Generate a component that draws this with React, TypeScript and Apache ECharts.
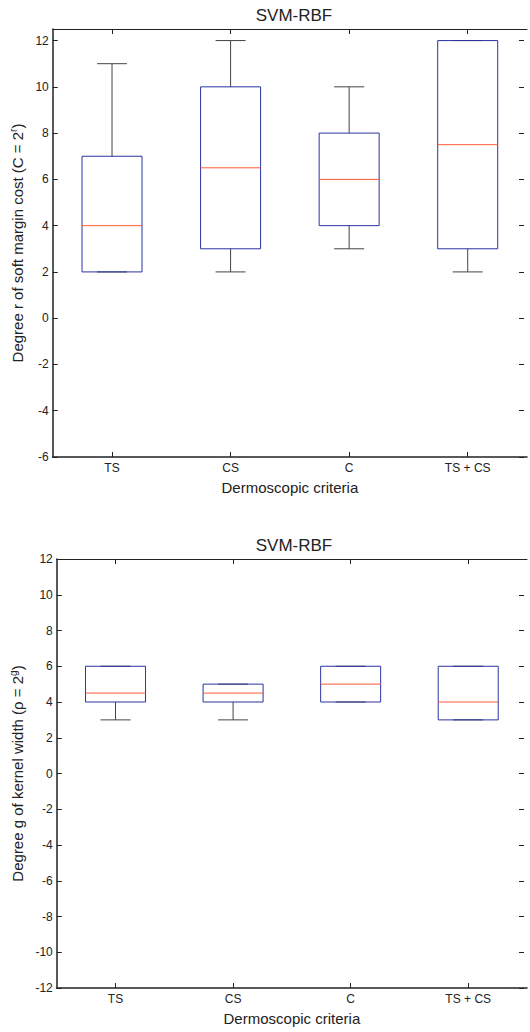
import React, { useEffect, useRef } from "react";
import * as echarts from "echarts";

const categories = ["TS", "CS", "C", "TS + CS"];
// [min, Q1, median, Q3, max]
const marginCost = [
  [2, 2, 4, 7, 11],
  [2, 3, 6.5, 10, 12],
  [3, 4, 6, 8, 10],
  [2, 3, 7.5, 12, 12],
];
const kernelWidth = [
  [3, 4, 4.5, 6, 6],
  [3, 4, 4.5, 5, 5],
  [4, 4, 5, 6, 6],
  [3, 3, 4, 6, 6],
];
const titles = ["SVM-RBF", "SVM-RBF"];
const xName = "Dermoscopic criteria";

const FONT = "Liberation Sans, Arial, Helvetica, sans-serif";
const BOX = "#2a33a0";
const MED = "#ff5a36";
const WHISK = "#444";

function renderBox(params: any, api: any) {
  const i = api.value(0);
  const lo = api.coord([i, api.value(1)]);
  const q1 = api.coord([i, api.value(2)]);
  const md = api.coord([i, api.value(3)]);
  const q3 = api.coord([i, api.value(4)]);
  const hi = api.coord([i, api.value(5)]);
  const cx = lo[0];
  const hw = 30;
  const cw = 15;
  return {
    type: "group",
    children: [
      { type: "line", shape: { x1: cx, y1: hi[1], x2: cx, y2: q3[1] }, style: { stroke: WHISK, lineWidth: 1 } },
      { type: "line", shape: { x1: cx, y1: q1[1], x2: cx, y2: lo[1] }, style: { stroke: WHISK, lineWidth: 1 } },
      { type: "line", shape: { x1: cx - cw, y1: hi[1], x2: cx + cw, y2: hi[1] }, style: { stroke: WHISK, lineWidth: 1 } },
      { type: "line", shape: { x1: cx - cw, y1: lo[1], x2: cx + cw, y2: lo[1] }, style: { stroke: WHISK, lineWidth: 1 } },
      { type: "rect", shape: { x: cx - hw, y: q3[1], width: 2 * hw, height: q1[1] - q3[1] }, style: { fill: "none", stroke: BOX, lineWidth: 1 } },
      { type: "line", shape: { x1: cx - hw, y1: md[1], x2: cx + hw, y2: md[1] }, style: { stroke: MED, lineWidth: 1 } },
    ],
  };
}

export default function App() {
  const ref = useRef<HTMLDivElement>(null);
  useEffect(() => {
    if (!ref.current) return;
    const chart = echarts.init(ref.current, null, { renderer: "svg" });
    const grids = [
      { left: 51, top: 29, width: 476, height: 428 },
      { left: 51, top: 559, width: 476, height: 429 },
    ];
    const yRanges = [
      [-6, 12.5],
      [-12, 12],
    ];
    const yNames = [
      "Degree r of soft margin cost (C = 2{s|r})",
      "Degree g of kernel width (ρ = 2{s|g})",
    ];
    const datasets = [marginCost, kernelWidth];
    const axisLine = { show: true, onZero: false, lineStyle: { color: "#222", width: 1 } };
    const xAxis: any[] = [];
    const yAxis: any[] = [];
    const series: any[] = [];
    for (let g = 0; g < 2; g++) {
      xAxis.push({
        type: "category",
        gridIndex: g,
        data: categories,
        position: "bottom",
        boundaryGap: true,
        axisLine: { show: true, onZero: false, lineStyle: { color: "#222", width: 1.5 } },
        axisTick: { show: true, inside: true, length: 5, alignWithLabel: true, lineStyle: { color: "#222" } },
        axisLabel: { color: "#222", fontFamily: FONT, fontSize: 12, margin: 5 },
        name: xName,
        nameLocation: "middle",
        nameGap: 23,
        nameTextStyle: { color: "#222", fontFamily: FONT, fontSize: 15 },
        splitLine: { show: false },
      });
      xAxis.push({
        type: "category",
        gridIndex: g,
        data: categories,
        position: "top",
        boundaryGap: true,
        axisLine,
        axisTick: { show: true, inside: true, length: 5, alignWithLabel: true, lineStyle: { color: "#222" } },
        axisLabel: { show: false },
        splitLine: { show: false },
      });
      yAxis.push({
        type: "value",
        gridIndex: g,
        min: yRanges[g][0],
        max: yRanges[g][1],
        interval: 2,
        position: "left",
        axisLine: { show: true, onZero: false, lineStyle: { color: "#222", width: 1.5 } },
        axisTick: { show: true, inside: true, length: 5, lineStyle: { color: "#222" } },
        axisLabel: {
          color: "#222",
          fontFamily: FONT,
          fontSize: 12,
          margin: 4,
          showMaxLabel: g === 1,
          formatter: (v: number) => (Number.isInteger(v) ? String(v) : ""),
        },
        splitLine: { show: false },
        name: yNames[g],
        nameLocation: "middle",
        nameRotate: 90,
        nameGap: 25,
        nameTextStyle: {
          color: "#222",
          fontFamily: FONT,
          fontSize: 15,
          rich: { s: { fontSize: 10, fontFamily: FONT, color: "#222", padding: [0, 0, 8, 0] } },
        },
      });
      yAxis.push({
        type: "value",
        gridIndex: g,
        min: yRanges[g][0],
        max: yRanges[g][1],
        interval: 2,
        position: "right",
        offset: -3,
        axisLine: { show: false },
        axisTick: { show: true, inside: true, length: 5, lineStyle: { color: "#222" } },
        axisLabel: { show: false },
        splitLine: { show: false },
      });
      series.push({
        type: "custom",
        xAxisIndex: g * 2,
        yAxisIndex: g * 2,
        renderItem: renderBox,
        encode: { x: 0, y: [1, 2, 3, 4, 5] },
        data: datasets[g].map((d, i) => [i, ...d]),
        clip: false,
      });
    }
    chart.setOption({
      animation: false,
      backgroundColor: "#fff",
      title: [
        { text: titles[0], left: 289, top: 2, textAlign: "center", textStyle: { fontFamily: FONT, fontSize: 17, fontWeight: "normal", color: "#222" } },
        { text: titles[1], left: 289, top: 532, textAlign: "center", textStyle: { fontFamily: FONT, fontSize: 17, fontWeight: "normal", color: "#222" } },
      ],
      grid: grids,
      xAxis,
      yAxis,
      series,
    });
    return () => chart.dispose();
  }, []);
  return <div ref={ref} style={{ position: "absolute", left: 0, top: 0, width: 530, height: 1032 }} />;
}
